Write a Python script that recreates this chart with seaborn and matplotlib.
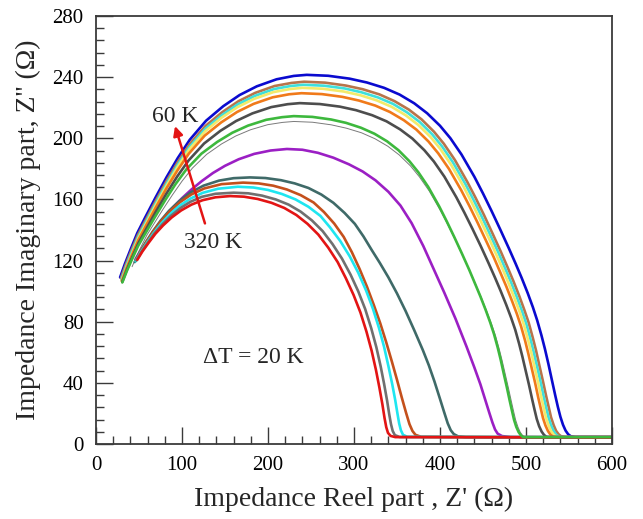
import matplotlib
matplotlib.use("Agg")
import matplotlib.pyplot as plt
from matplotlib.ticker import MultipleLocator
import pandas as pd
import seaborn as sns

# Nyquist plots (Z'' vs Z') measured from 60 K to 320 K in 20 K steps
z_re_60K = [28, 33.7, 40, 48, 57, 69, 82, 95, 109, 128, 148, 167, 187, 210, 230, 245,
            270, 295, 315, 335, 353, 370, 385, 400, 412, 425, 440, 450, 460, 470, 480, 488, 495, 502, 508, 513,
            518, 522, 526, 530, 534, 537, 540, 543, 546, 549, 552, 557, 600]
z_im_60K = [109, 118, 127, 138, 148, 161, 174.5, 187, 199, 211.5, 221, 228.3, 234, 238.6, 240.8, 241.5,
            240.9, 239.0, 236.5, 233.0, 228.6, 222.9, 216.4, 208.2, 200.1, 189.4, 174.8, 163.9, 152.4, 140.4, 128.1, 117.9, 108.6, 98.7, 89.5, 80.9,
            71, 62.2, 52.5, 42.1, 31.8, 24.4, 17.8, 12.6, 8.8, 6.4, 5.1, 4.6, 4.5]

z_re_80K = [29, 34.5, 40.7, 48.6, 57.5, 69.3, 82, 94.8, 108.4, 127.2, 146.8, 165.5, 185.1, 207.7, 227.3, 242,
            266.3, 290.5, 310.1, 329.6, 347.1, 363.7, 378.5, 393, 404.5, 417.2, 431.7, 441.5, 451.3, 461, 470.8, 478.5, 485.3, 492.1, 498, 503.1,
            507.8, 511.7, 515.5, 519.6, 523.5, 526.5, 529.1, 532.1, 535, 538, 541, 545.7, 600]
z_im_80K = [108.5, 117.2, 126, 136.6, 146.3, 158.9, 172, 184.2, 195.8, 208, 217.1, 224.2, 229.7, 234.2, 236.2, 237,
            236.4, 234.5, 232.1, 228.7, 224.3, 218.8, 212.4, 204.3, 196.4, 185.9, 171.5, 160.9, 149.6, 137.8, 125.7, 115.7, 106.6, 96.9, 87.8, 79.4,
            69.7, 61.1, 51.5, 41.3, 31.2, 23.9, 17.5, 12.4, 8.6, 6.3, 5, 4.5, 4.5]

z_re_100K = [29.5, 35, 41.1, 49, 57.8, 69.5, 82.2, 94.9, 108.4, 127, 146.5, 165.1, 184.5, 206.9, 226.4, 241,
             265.1, 289.2, 308.6, 328, 345.4, 361.8, 376.5, 390.9, 402.4, 415, 429.5, 439.2, 448.9, 458.6, 468.3, 475.9, 482.7, 489.4, 495.3, 500.3,
             505, 508.8, 512.7, 516.8, 520.6, 523.5, 526.2, 529.1, 532.1, 535, 537.9, 542.6, 600]
z_im_100K = [107.5, 116.2, 124.8, 135.4, 145, 157.5, 170.5, 182.6, 194.1, 206.2, 215.2, 222.3, 227.7, 232.2, 234.2, 235,
             234.4, 232.6, 230.1, 226.7, 222.5, 216.9, 210.6, 202.6, 194.7, 184.3, 170.1, 159.5, 148.3, 136.6, 124.7, 114.7, 105.7, 96, 87.1, 78.7,
             69.1, 60.5, 51.1, 41, 30.9, 23.7, 17.3, 12.3, 8.6, 6.2, 5, 4.5, 4.5]

z_re_120K = [30, 35.5, 41.6, 49.3, 58.1, 69.7, 82.3, 94.9, 108.3, 126.8, 146.1, 164.6, 183.9, 206.2, 225.5, 240,
             263.9, 287.9, 307.2, 326.4, 343.7, 360, 374.6, 388.9, 400.3, 412.9, 427.2, 436.8, 446.4, 456.1, 465.7, 473.3, 480, 486.7, 492.6, 497.5,
             502.2, 506, 509.8, 513.9, 517.7, 520.6, 523.2, 526.2, 529.1, 532, 534.9, 539.6, 600]
z_im_120K = [107, 115.6, 124.1, 134.6, 144, 156.4, 169.2, 181.2, 192.6, 204.5, 213.5, 220.4, 225.8, 230.2, 232.2, 233,
             232.4, 230.6, 228.2, 224.8, 220.6, 215.1, 208.8, 200.9, 193.1, 182.7, 168.6, 158.1, 147, 135.5, 123.6, 113.8, 104.8, 95.2, 86.4, 78.1,
             68.5, 60, 50.7, 40.6, 30.7, 23.5, 17.2, 12.2, 8.5, 6.2, 4.9, 4.5, 4.5]

z_re_140K = [30, 35.4, 41.5, 49.2, 58, 69.5, 82, 94.6, 108, 126.3, 145.6, 164, 183.2, 205.4, 224.6, 239,
             262.7, 286.5, 305.6, 324.7, 341.8, 358, 372.5, 386.6, 397.9, 410.4, 424.6, 434.1, 443.7, 453.2, 462.8, 470.3, 477, 483.6, 489.4, 494.3,
             499, 502.7, 506.5, 510.6, 514.3, 517.2, 519.8, 522.7, 525.6, 528.5, 531.4, 536, 600]
z_im_140K = [106.5, 114.9, 123.2, 133.4, 142.7, 154.7, 167.3, 178.9, 190, 201.7, 210.4, 217.2, 222.5, 226.8, 228.8, 229.5,
             228.9, 227.1, 224.7, 221.4, 217.2, 211.8, 205.7, 197.9, 190.2, 180, 166.1, 155.8, 144.8, 133.4, 121.8, 112, 103.2, 93.8, 85.1, 76.9,
             67.5, 59.1, 49.9, 40, 30.2, 23.2, 16.9, 12, 8.4, 6.1, 4.8, 4.5, 4.5]

z_re_160K = [30.5, 35.9, 41.9, 49.5, 58.2, 69.5, 81.9, 94.3, 107.5, 125.7, 144.7, 162.9, 181.9, 203.8, 222.8, 237,
             260.3, 283.6, 302.3, 321.1, 337.8, 353.7, 367.9, 381.8, 392.9, 405.1, 419, 428.4, 437.8, 447.2, 456.5, 463.9, 470.4, 477, 482.7, 487.5,
             492, 495.7, 499.4, 503.4, 507.1, 509.9, 512.5, 515.3, 518.2, 521, 523.8, 528.4, 600]
z_im_160K = [106, 114, 121.9, 131.6, 140.4, 151.9, 163.8, 174.9, 185.4, 196.6, 204.9, 211.3, 216.3, 220.4, 222.3, 223,
             222.4, 220.7, 218.4, 215.1, 211.1, 205.8, 199.8, 192.2, 184.8, 174.9, 161.4, 151.3, 140.7, 129.7, 118.3, 108.9, 100.3, 91.1, 82.6, 74.7,
             65.6, 57.4, 48.5, 38.9, 29.4, 22.5, 16.4, 11.6, 8.1, 5.9, 4.7, 4.5, 4.5]

z_re_180K = [30.6, 35.8, 41.6, 48.9, 57.3, 68.3, 80.3, 92.2, 105, 122.5, 140.9, 158.4, 176.8, 197.9, 216.2, 230,
             251.6, 273.3, 290.7, 308.1, 323.7, 338.5, 351.7, 364.6, 374.9, 386.3, 399.2, 407.9, 416.6, 425.4, 434.1, 440.9, 447, 453.1, 458.4, 462.8,
             467.1, 470.5, 473.9, 477.6, 481.1, 483.7, 486.1, 488.7, 491.4, 494, 496.6, 500.9, 600]
z_im_180K = [105.7, 113.1, 120.5, 129.5, 137.7, 148.3, 159.4, 169.8, 179.6, 189.9, 197.6, 203.6, 208.3, 212.1, 213.8, 214.5,
             214, 212.3, 210.1, 206.9, 203, 198, 192.2, 184.9, 177.7, 168.2, 155.3, 145.6, 135.4, 124.7, 113.8, 104.7, 96.5, 87.7, 79.5, 71.9,
             63.1, 55.3, 46.6, 37.4, 28.2, 21.7, 15.8, 11.2, 7.8, 5.7, 4.5, 4.5, 4.5]

z_re_200K = [42, 46.9, 52.3, 59.3, 67.2, 77.5, 88.8, 100.1, 112.1, 128.7, 146, 162.5, 179.8, 199.7, 217, 230,
             251.8, 273.6, 291.2, 308.7, 324.4, 339.3, 352.6, 365.7, 376, 387.5, 400.5, 409.3, 418.1, 426.8, 435.6, 442.5, 448.7, 454.8, 460.1, 464.6,
             468.9, 472.3, 475.8, 479.5, 483, 485.6, 488, 490.7, 493.3, 496, 498.7, 502.9, 600]
z_im_200K = [116, 122.5, 128.9, 136.8, 143.9, 153.2, 162.9, 172, 180.5, 189.5, 196.3, 201.5, 205.6, 208.9, 210.4, 211,
             210.5, 208.8, 206.6, 203.6, 199.7, 194.8, 189.1, 181.9, 174.8, 165.5, 152.7, 143.2, 133.2, 122.7, 111.9, 103, 94.9, 86.2, 78.2, 70.7,
             62, 54.4, 45.9, 36.8, 27.8, 21.3, 15.6, 11, 7.7, 5.6, 4.5, 4.4, 4.4]

z_re_220K = [46, 52, 60, 70, 80, 90, 100, 111, 123, 136, 150, 166, 184, 203, 222, 240, 258, 276, 294, 310,
             325, 340, 354, 367, 380.6, 393, 405, 418, 431, 440, 447, 452, 457, 461, 464, 467, 472, 482, 600]
z_im_220K = [121, 126.5, 133, 141, 148.5, 155, 160.8, 166.5, 172, 177.3, 182, 186.3, 189.8, 192, 193, 192.5, 190.5, 187.3, 183, 178.3,
             172.5, 165, 156, 144.5, 129.5, 114, 99, 82, 63.5, 50, 39, 30, 21, 14, 9.5, 6.8, 5.2, 4.5, 4.5]

z_re_240K = [45, 51, 58, 66, 75, 85, 97, 110, 125, 143, 160, 179, 197, 215, 231, 247, 262, 276, 289, 301,
             311, 320.5, 330, 340, 350, 360, 370, 380, 387, 393.5, 400, 405, 409, 412.5, 416, 421, 430, 600]
z_im_240K = [119, 125.3, 132, 139, 146, 152.6, 159, 164.6, 169, 172.3, 173.9, 174.4, 174, 172.6, 170.5, 167.5, 163.2, 157.8, 151.2, 144,
             135.8, 127, 118.5, 109, 98.5, 87, 74.5, 61.5, 51.5, 41, 29.5, 20.5, 13.5, 9, 6.5, 5, 4.5, 4.3]

z_re_260K = [46, 52, 59, 67, 76, 86, 98, 111, 126, 146, 171, 189, 206, 222, 238, 253, 265, 277, 288, 297.5,
             306.5, 315, 323, 330.5, 337.5, 344, 350, 355.5, 360.5, 364.5, 368, 371.5, 378, 600]
z_im_260K = [120, 126, 132.5, 139.3, 146, 152.3, 158.3, 163.3, 167.2, 170, 171, 170.5, 169, 166.5, 162.8, 158, 151.8, 144.2, 135.5, 125.5,
             114.5, 103, 91, 79, 66.5, 54, 42, 30.5, 20.5, 13, 8.5, 6, 4.7, 4.3]

z_re_280K = [46, 52, 59, 67, 76, 86, 97, 110, 124, 142, 165, 183, 200, 216, 232, 247, 261, 272, 284, 295,
             305, 314, 322, 329, 335, 340, 344.5, 348, 350.5, 352.5, 354.5, 357, 362, 600]
z_im_280K = [119.5, 125.5, 131.5, 138, 144.3, 150.3, 155.8, 160.6, 164.3, 167, 168.3, 167.8, 166.2, 163.6, 160, 155.2, 149.2, 141.8, 132.8, 122.8,
             112, 100.5, 88.5, 76, 63.5, 51, 39, 28.5, 20, 13.5, 9, 6, 4.7, 4.3]

z_re_300K = [47, 53, 60, 68, 77, 87, 98, 110, 123, 139, 160, 177, 193, 209, 224, 238, 251, 263.5, 275, 286,
             296, 305, 313, 320, 326, 331, 335, 338.5, 341, 343, 345, 347.5, 353, 600]
z_im_300K = [120, 125.8, 131.5, 137.8, 143.6, 149.2, 154.3, 158.5, 161.7, 163.7, 164.4, 164, 162.5, 160, 156.6, 152, 146.3, 139.3, 130.8, 121.3,
             110.8, 99.8, 88.3, 75.8, 63.3, 50.8, 39.3, 28.3, 19.3, 13, 8.5, 5.8, 4.6, 4.3]

z_re_320K = [48, 54, 61, 69, 78, 88, 99, 111, 124, 139, 156, 172, 188, 204, 219, 233, 246, 258.5, 270, 281,
             290.5, 299.5, 307.5, 314.5, 320.5, 325.5, 329.5, 333, 335.5, 337.5, 339.5, 342.5, 348, 600]
z_im_320K = [120.5, 126, 131.5, 137.5, 143, 148.2, 152.8, 156.6, 159.5, 161.4, 162.2, 161.8, 160.3, 157.8, 154.4, 149.8, 144, 137, 128.5, 119,
             108.5, 97.5, 86, 73.5, 61, 48.5, 37, 26, 17, 11, 7.3, 5.3, 4.5, 4.3]

temperatures = ["60 K", "80 K", "100 K", "120 K", "140 K", "160 K", "180 K",
                "200 K", "220 K", "240 K", "260 K", "280 K", "300 K", "320 K"]
z_re = [z_re_60K, z_re_80K, z_re_100K, z_re_120K, z_re_140K, z_re_160K, z_re_180K,
        z_re_200K, z_re_220K, z_re_240K, z_re_260K, z_re_280K, z_re_300K, z_re_320K]
z_im = [z_im_60K, z_im_80K, z_im_100K, z_im_120K, z_im_140K, z_im_160K, z_im_180K,
        z_im_200K, z_im_220K, z_im_240K, z_im_260K, z_im_280K, z_im_300K, z_im_320K]

colors = {
    "60 K": "#0a0acf", "80 K": "#b8744a", "100 K": "#3ee0dc", "120 K": "#f3ea6a",
    "140 K": "#f07a1a", "160 K": "#4d4d4d", "180 K": "#3db83d", "200 K": "#7a7a7a",
    "220 K": "#9b1fc4", "240 K": "#3f6a68", "260 K": "#c4501c", "280 K": "#1fe6f0",
    "300 K": "#707070", "320 K": "#e31414",
}
widths = {t: 1.9 for t in temperatures}
widths["200 K"] = 0.7

frames = []
for t, xs, ys in zip(temperatures, z_re, z_im):
    frames.append(pd.DataFrame({"Zre": xs, "Zim": ys, "T": t}))
df = pd.concat(frames, ignore_index=True)

sns.set_theme(style="ticks")
plt.rcParams["font.family"] = ["Liberation Serif", "DejaVu Serif"]
plt.rcParams["axes.edgecolor"] = "#3a3a3a"

fig = plt.figure(figsize=(6.43, 5.19), dpi=100)
ax = fig.add_axes([96 / 643, 75 / 519, 516 / 643, 428 / 519])

draw_order = ["60 K", "80 K", "100 K", "120 K", "140 K", "160 K", "200 K",
              "220 K", "240 K", "260 K", "280 K", "300 K", "320 K", "180 K"]
for t in draw_order:
    sub = df[df["T"] == t]
    sns.lineplot(data=sub, x="Zre", y="Zim", color=colors[t], lw=widths[t],
                 sort=False, estimator=None, ax=ax, legend=False)

ax.set_xlim(0, 600)
ax.set_ylim(0, 280)
ax.xaxis.set_major_locator(MultipleLocator(100))
ax.xaxis.set_minor_locator(MultipleLocator(20))
ax.yaxis.set_major_locator(MultipleLocator(40))
ax.yaxis.set_minor_locator(MultipleLocator(8))
ax.tick_params(which="both", direction="in", color="#3a3a3a", width=1.0,
               top=False, right=False, labelsize=15, labelcolor="black")
ax.tick_params(which="major", length=12.5, pad=9)
ax.tick_params(which="minor", length=6)
for s in ax.spines.values():
    s.set_linewidth(1.3)
    s.set_visible(True)

ax.set_xlabel("Impedance Reel part , Z' (\u03a9)", fontsize=20, labelpad=8)
ax.set_ylabel("Impedance Imaginary part, Z'' (\u03a9)", fontsize=20, labelpad=8)

ax.annotate("", xy=(91.9, 208), xytext=(126.7, 144.3),
            arrowprops=dict(arrowstyle="-|>", color="#e31414", lw=1.8,
                            mutation_scale=14, shrinkA=0, shrinkB=0))
ax.text(91.9, 214, "60 K", fontsize=17, ha="center", va="center")
ax.text(136.4, 131.8, "320 K", fontsize=17, ha="center", va="center")
ax.text(182.6, 56.6, "\u0394T = 20 K", fontsize=17, ha="center", va="center")

fig.savefig("out.png", dpi=100)
